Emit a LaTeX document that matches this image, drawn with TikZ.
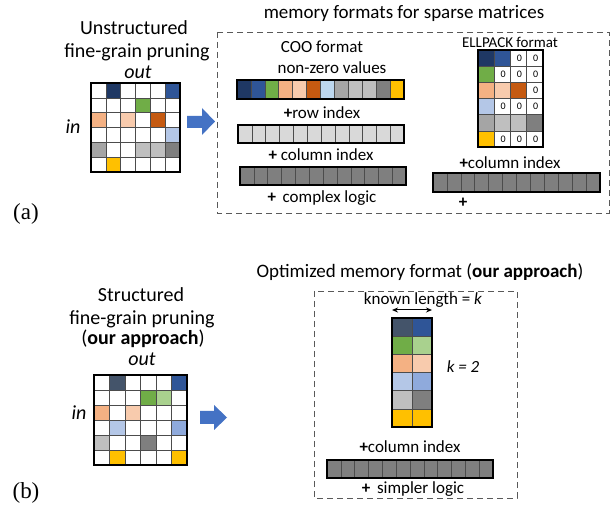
\documentclass[tikz,border=0pt]{standalone}
\usepackage{fontspec}
\usetikzlibrary{arrows.meta}
\setmainfont{Carlito}
\newfontfamily\labfont{Liberation Serif}
\definecolor{navy}{HTML}{1F3864}
\definecolor{blueA}{HTML}{2F5597}
\definecolor{greenA}{HTML}{70AD47}
\definecolor{lgreen}{HTML}{A9D18E}
\definecolor{lorange}{HTML}{F4B183}
\definecolor{peach}{HTML}{F8CBAD}
\definecolor{dorange}{HTML}{C55A11}
\definecolor{lblue}{HTML}{B4C7E7}
\definecolor{pblue}{HTML}{BDD7EE}
\definecolor{mblue}{HTML}{8FAADC}
\definecolor{grayA}{HTML}{A5A5A5}
\definecolor{grayB}{HTML}{BFBFBF}
\definecolor{grayC}{HTML}{7F7F7F}
\definecolor{grayD}{HTML}{D9D9D9}
\definecolor{gold}{HTML}{FFC000}
\definecolor{slate}{HTML}{44546A}
\definecolor{arrowblue}{HTML}{4472C4}
\definecolor{dashgray}{HTML}{595959}
\tikzset{
  gridline/.style={draw=black!70, line width=0.6pt},
  gridborder/.style={draw=black, line width=1.6pt},
  dashbox/.style={draw=dashgray, line width=0.8pt, dash pattern=on 6pt off 4pt},
  big/.style={font=\fontsize{20}{24}\selectfont, inner sep=0pt},
  title/.style={font=\fontsize{19}{23}\selectfont, inner sep=0pt},
  mid/.style={font=\fontsize{17}{20}\selectfont, inner sep=0pt},
  ell/.style={font=\fontsize{15}{18}\selectfont, inner sep=0pt},
  zero/.style={font=\fontsize{10}{12}\selectfont, inner sep=0pt},
  sublabel/.style={font=\labfont\fontsize{23}{27}\selectfont, inner sep=0pt},
  blockarrow/.style={fill=arrowblue},
}
% cell fill: x0 y0 cw ch col row colour
\newcommand\gcell[7]{\fill[#7] ({#1+#5*#3},{#2+#6*#4}) rectangle ++(#3,#4);}
% grid: x0 y0 cw ch ncols nrows
\newcommand\ggrid[6]{%
  \pgfmathtruncatemacro\lastc{#5-1}%
  \pgfmathtruncatemacro\lastr{#6-1}%
  \ifnum\lastc>0
  \foreach \k in {1,...,\lastc} {\draw[gridline] ({#1+\k*#3},#2) -- ++(0,{#6*#4});}
  \fi
  \ifnum\lastr>0
  \foreach \k in {1,...,\lastr} {\draw[gridline] (#1,{#2+\k*#4}) -- ++({#5*#3},0);}
  \fi
  \draw[gridborder] (#1,#2) rectangle ++({#5*#3},{#6*#4});}
\begin{document}
\begin{tikzpicture}[x=1pt,y=-1pt]
\useasboundingbox (0,0) rectangle (616,518);
\fill[white] (0,0) rectangle (616,518);

% ================= (a) =================
\node[big] (ut1) at (134,28) {Unstructured};
\node[big] (ut2) at (137,52) {fine-grain pruning};
\node[big] (outa) at (138,72) {\itshape out};
\node[big] (ina) at (73,127) {\itshape in};

% unstructured matrix
\def\xa{91}\def\ya{83}\def\ca{14.85}
\fill[white] (\xa,\ya) rectangle ++({6*\ca},{6*\ca});
\foreach \c/\r/\col in {1/0/navy,5/0/blueA,3/1/greenA,0/2/lorange,2/2/peach,4/2/dorange,5/3/lblue,0/4/grayA,3/4/grayB,4/4/grayB,5/4/grayC,1/5/gold}
  {\gcell{\xa}{\ya}{\ca}{\ca}{\c}{\r}{\col}}
\ggrid{\xa}{\ya}{\ca}{\ca}{6}{6}

% block arrow a
\fill[blockarrow] (187,116) -- (202,116) -- (202,108) -- (215,121.5) -- (202,135) -- (202,128) -- (187,128) -- cycle;

% dashed box a
\draw[dashbox] (217,32) rectangle (609,213);
\node[title] (mft) at (404,14) {memory formats for sparse matrices};

% COO
\node[mid] (coo) at (322,47) {COO format};
\node[mid] (nzv) at (332,68) {non-zero values};
\def\bw{13.92}
\foreach \col [count=\i from 0] in {navy,blueA,greenA,lorange,peach,dorange,pblue,grayA,grayB,grayB,grayC,gold}
  {\gcell{237}{80}{\bw}{19}{\i}{0}{\col}}
\ggrid{237}{80}{\bw}{19}{12}{1}
\node[mid] (rowi) at (322,113) {\textbf{+}row index};
\fill[grayD] (238,125) rectangle ++({12*13.85},18);
\ggrid{238}{125}{13.85}{18}{12}{1}
\node[mid] (coli) at (321,155) {\textbf{+} column index};
\fill[grayC] (240,167) rectangle ++({12*13.85},18);
\ggrid{240}{167}{13.85}{18}{12}{1}
\node[mid] (cpl) at (322,198) {\textbf{+}\, complex logic};

% ELLPACK
\node[ell] (ellt) at (510,42) {ELLPACK format};
\def\xe{478}\def\ye{50}\def\cwe{16.25}\def\che{16.17}
\fill[white] (\xe,\ye) rectangle ++({4*\cwe},{6*\che});
\foreach \c/\r/\col in {0/0/navy,1/0/blueA,0/1/greenA,0/2/lorange,1/2/peach,2/2/dorange,0/3/lblue,0/4/grayA,1/4/grayB,2/4/grayB,3/4/grayC,0/5/gold}
  {\gcell{\xe}{\ye}{\cwe}{\che}{\c}{\r}{\col}}
\foreach \c/\r in {2/0,3/0,1/1,2/1,3/1,3/2,1/3,2/3,3/3,1/5,2/5,3/5}
  {\node[zero] (z\c\r) at ({\xe+(\c+0.55)*\cwe},{\ye+(\r+0.5)*\che}) {0};}
\ggrid{\xe}{\ye}{\cwe}{\che}{4}{6}
\node[mid] (ecol) at (510,163) {\textbf{+}column index};
\fill[grayC] (433,173) rectangle ++({12*13.92},19);
\ggrid{433}{173}{13.92}{19}{12}{1}
\node[mid] (eplus) at (463,203) {\textbf{+}};

\node[sublabel] (la) at (26,214) {(a)};

% ================= (b) =================
\node[big] (st1) at (141,295) {Structured};
\node[big] (st2) at (142,319) {fine-grain pruning};
\node[big] (st3) at (143,339) {(\textbf{our approach})};
\node[big] (outb) at (142,359) {\itshape out};
\node[big] (inb) at (79,413) {\itshape in};

\def\xb{94}\def\yb{375}\def\cwb{15.5}\def\chb{15}
\fill[white] (\xb,\yb) rectangle ++({6*\cwb},{6*\chb});
\foreach \c/\r/\col in {1/0/slate,5/0/blueA,3/1/greenA,4/1/lgreen,0/2/lorange,2/2/peach,1/3/lblue,5/3/mblue,0/4/grayB,3/4/grayC,1/5/gold,5/5/gold}
  {\gcell{\xb}{\yb}{\cwb}{\chb}{\c}{\r}{\col}}
\ggrid{\xb}{\yb}{\cwb}{\chb}{6}{6}

% block arrow b
\fill[blockarrow] (200,411) -- (214,411) -- (214,405) -- (227,417.5) -- (214,430) -- (214,424) -- (200,424) -- cycle;

\node[title] (omf) at (420,272) {Optimized memory format (\textbf{our approach})};
\draw[dashbox] (314,291) rectangle (517,498);
\node[mid] (kl) at (423,300) {known length = \textit{k}};
\coordinate (kla) at (392,310);
\coordinate (klb) at (432,310);
\draw[line width=1pt, {Stealth[length=6pt,width=5pt]}-{Stealth[length=6pt,width=5pt]}] (kla) -- (klb);

\def\xc{392}\def\yc{318}\def\cwc{20}\def\chc{18.17}
\foreach \c/\r/\col in {0/0/slate,1/0/blueA,0/1/greenA,1/1/lgreen,0/2/lorange,1/2/peach,0/3/lblue,1/3/mblue,0/4/grayB,1/4/grayC,0/5/gold,1/5/gold}
  {\gcell{\xc}{\yc}{\cwc}{\chc}{\c}{\r}{\col}}
\ggrid{\xc}{\yc}{\cwc}{\chc}{2}{6}
\node[mid] (k2) at (463,367) {\itshape k = 2};

\node[mid] (bcol) at (410,447) {\textbf{+}column index};
\fill[grayC] (327,460) rectangle ++({12*13.83},18);
\ggrid{327}{460}{13.83}{18}{12}{1}
\node[mid] (spl) at (413,489) {\textbf{+}\, simpler logic};

\node[sublabel] (lb) at (26,493) {(b)};
\end{tikzpicture}
\end{document}
